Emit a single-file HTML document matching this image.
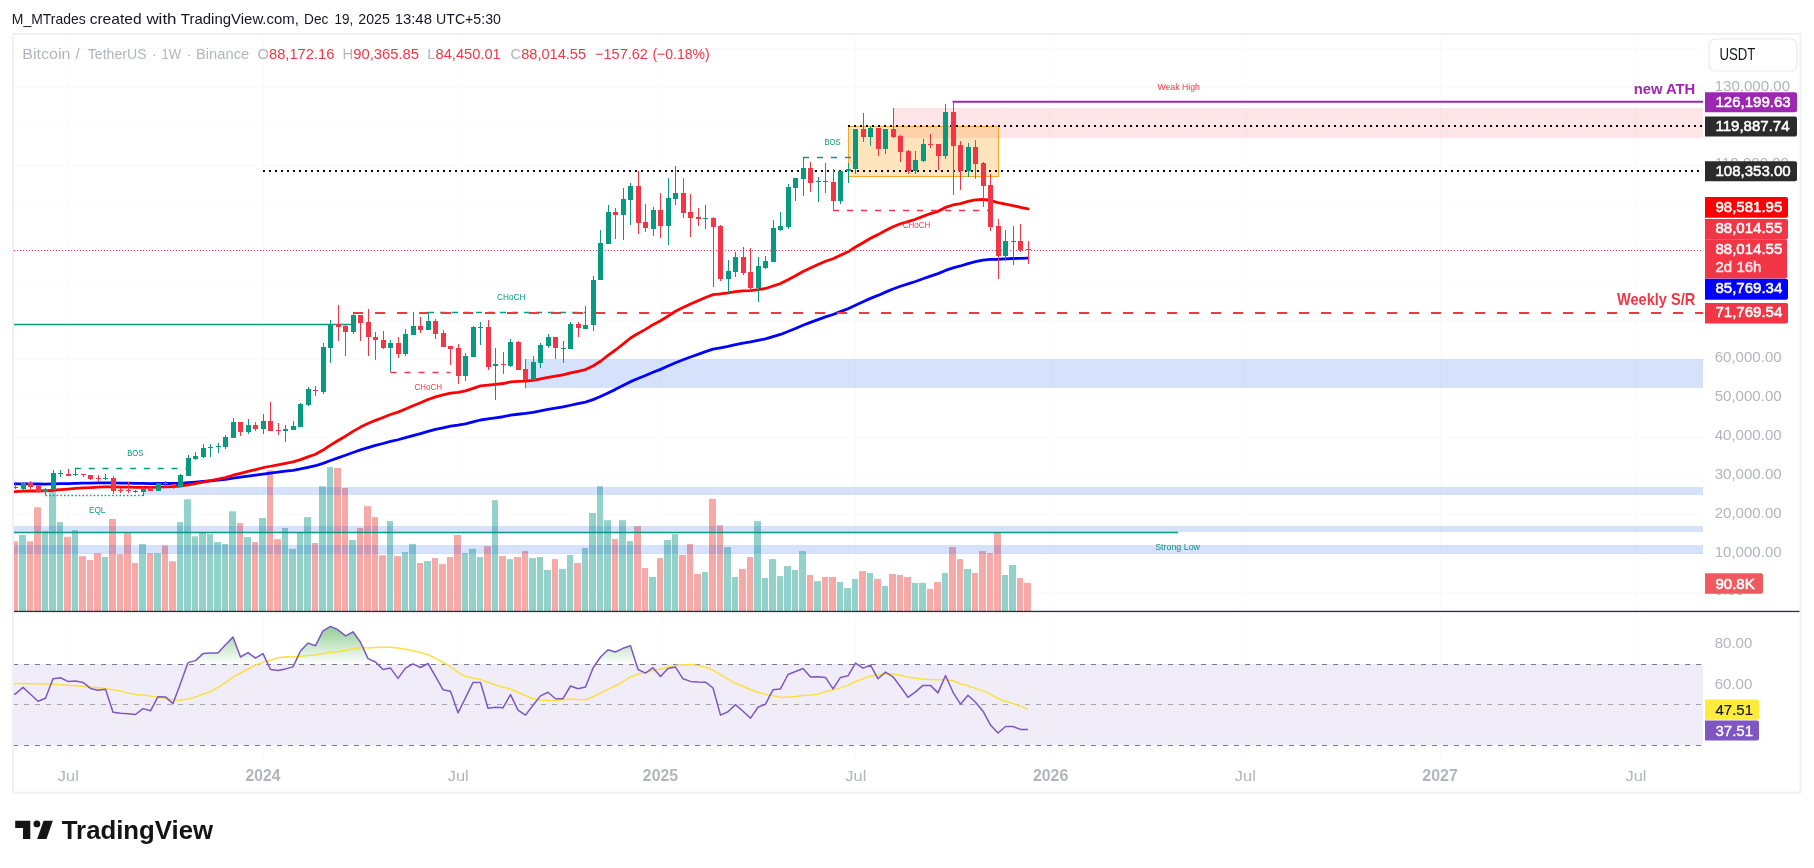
<!DOCTYPE html>
<html><head><meta charset="utf-8"><style>
html,body{margin:0;padding:0;background:#fff;}
body{width:1814px;height:868px;overflow:hidden;position:relative;}
svg{position:absolute;left:0;top:0;font-family:"Liberation Sans", sans-serif;will-change:transform;}
</style></head><body>
<svg width="1814" height="868" viewBox="0 0 1814 868">
<defs><clipPath id="plot"><rect x="14" y="34" width="1689.5" height="726"/></clipPath></defs>
<g clip-path="url(#plot)">
<line x1="68.5" y1="34" x2="68.5" y2="760" stroke="#fafafc" stroke-width="1"/>
<line x1="263.5" y1="34" x2="263.5" y2="760" stroke="#fafafc" stroke-width="1"/>
<line x1="458.5" y1="34" x2="458.5" y2="760" stroke="#fafafc" stroke-width="1"/>
<line x1="661.5" y1="34" x2="661.5" y2="760" stroke="#fafafc" stroke-width="1"/>
<line x1="855.5" y1="34" x2="855.5" y2="760" stroke="#fafafc" stroke-width="1"/>
<line x1="1050.5" y1="34" x2="1050.5" y2="760" stroke="#fafafc" stroke-width="1"/>
<line x1="1245.5" y1="34" x2="1245.5" y2="760" stroke="#fafafc" stroke-width="1"/>
<line x1="1440.5" y1="34" x2="1440.5" y2="760" stroke="#fafafc" stroke-width="1"/>
<line x1="1636.5" y1="34" x2="1636.5" y2="760" stroke="#fafafc" stroke-width="1"/>
<line x1="14" y1="592.5" x2="1703" y2="592.5" stroke="#fafafc" stroke-width="1"/>
<line x1="14" y1="553.5" x2="1703" y2="553.5" stroke="#fafafc" stroke-width="1"/>
<line x1="14" y1="514.5" x2="1703" y2="514.5" stroke="#fafafc" stroke-width="1"/>
<line x1="14" y1="475.5" x2="1703" y2="475.5" stroke="#fafafc" stroke-width="1"/>
<line x1="14" y1="437.5" x2="1703" y2="437.5" stroke="#fafafc" stroke-width="1"/>
<line x1="14" y1="398.5" x2="1703" y2="398.5" stroke="#fafafc" stroke-width="1"/>
<line x1="14" y1="359.5" x2="1703" y2="359.5" stroke="#fafafc" stroke-width="1"/>
<line x1="14" y1="320.5" x2="1703" y2="320.5" stroke="#fafafc" stroke-width="1"/>
<line x1="14" y1="281.5" x2="1703" y2="281.5" stroke="#fafafc" stroke-width="1"/>
<line x1="14" y1="243.5" x2="1703" y2="243.5" stroke="#fafafc" stroke-width="1"/>
<line x1="14" y1="204.5" x2="1703" y2="204.5" stroke="#fafafc" stroke-width="1"/>
<line x1="14" y1="165.5" x2="1703" y2="165.5" stroke="#fafafc" stroke-width="1"/>
<line x1="14" y1="126.5" x2="1703" y2="126.5" stroke="#fafafc" stroke-width="1"/>
<line x1="14" y1="87.5" x2="1703" y2="87.5" stroke="#fafafc" stroke-width="1"/>
<line x1="14" y1="48.5" x2="1703" y2="48.5" stroke="#fafafc" stroke-width="1"/>
<g><rect x="14" y="541.3" width="4" height="69.7" fill="#f7a9a8"/><rect x="19" y="535.0" width="7" height="76.0" fill="#93d2ca"/><rect x="27" y="541.3" width="6" height="69.7" fill="#f7a9a8"/><rect x="34" y="507.3" width="7" height="103.7" fill="#f7a9a8"/><rect x="42" y="531.1" width="6" height="79.9" fill="#93d2ca"/><rect x="49" y="491.3" width="7" height="119.7" fill="#93d2ca"/><rect x="57" y="522.1" width="6" height="88.9" fill="#93d2ca"/><rect x="64" y="536.8" width="7" height="74.2" fill="#f7a9a8"/><rect x="72" y="530.2" width="6" height="80.8" fill="#93d2ca"/><rect x="79" y="556.1" width="7" height="54.9" fill="#f7a9a8"/><rect x="87" y="560.0" width="6" height="51.0" fill="#f7a9a8"/><rect x="94" y="553.2" width="7" height="57.8" fill="#f7a9a8"/><rect x="102" y="557.0" width="6" height="54.0" fill="#93d2ca"/><rect x="109" y="518.9" width="7" height="92.1" fill="#f7a9a8"/><rect x="117" y="554.1" width="6" height="56.9" fill="#f7a9a8"/><rect x="124" y="533.2" width="7" height="77.8" fill="#f7a9a8"/><rect x="132" y="563.0" width="6" height="48.0" fill="#f7a9a8"/><rect x="139" y="543.9" width="7" height="67.1" fill="#93d2ca"/><rect x="147" y="553.2" width="6" height="57.8" fill="#f7a9a8"/><rect x="154" y="553.2" width="7" height="57.8" fill="#93d2ca"/><rect x="162" y="545.4" width="6" height="65.6" fill="#f7a9a8"/><rect x="169" y="561.3" width="7" height="49.7" fill="#f7a9a8"/><rect x="177" y="522.1" width="6" height="88.9" fill="#93d2ca"/><rect x="184" y="499.3" width="7" height="111.7" fill="#93d2ca"/><rect x="192" y="536.3" width="6" height="74.7" fill="#93d2ca"/><rect x="199" y="532.3" width="7" height="78.7" fill="#93d2ca"/><rect x="207" y="534.1" width="6" height="76.9" fill="#93d2ca"/><rect x="214" y="542.1" width="7" height="68.9" fill="#93d2ca"/><rect x="222" y="543.9" width="6" height="67.1" fill="#93d2ca"/><rect x="229" y="511.3" width="7" height="99.7" fill="#93d2ca"/><rect x="237" y="523.0" width="6" height="88.0" fill="#f7a9a8"/><rect x="244" y="537.1" width="7" height="73.9" fill="#93d2ca"/><rect x="252" y="542.1" width="6" height="68.9" fill="#f7a9a8"/><rect x="259" y="518.0" width="7" height="93.0" fill="#93d2ca"/><rect x="267" y="470.2" width="6" height="140.8" fill="#f7a9a8"/><rect x="274" y="539.1" width="7" height="71.9" fill="#f7a9a8"/><rect x="282" y="528.0" width="6" height="83.0" fill="#93d2ca"/><rect x="289" y="548.9" width="7" height="62.1" fill="#93d2ca"/><rect x="297" y="532.3" width="6" height="78.7" fill="#93d2ca"/><rect x="304" y="517.1" width="7" height="93.9" fill="#93d2ca"/><rect x="312" y="543.0" width="6" height="68.0" fill="#f7a9a8"/><rect x="319" y="486.3" width="7" height="124.7" fill="#93d2ca"/><rect x="327" y="467.1" width="6" height="143.9" fill="#93d2ca"/><rect x="334" y="468.0" width="7" height="143.0" fill="#f7a9a8"/><rect x="342" y="488.0" width="6" height="123.0" fill="#f7a9a8"/><rect x="349" y="540.0" width="7" height="71.0" fill="#93d2ca"/><rect x="357" y="527.9" width="6" height="83.1" fill="#f7a9a8"/><rect x="364" y="506.1" width="7" height="104.9" fill="#f7a9a8"/><rect x="372" y="517.1" width="6" height="93.9" fill="#f7a9a8"/><rect x="379" y="555.2" width="7" height="55.8" fill="#f7a9a8"/><rect x="387" y="521.1" width="6" height="89.9" fill="#93d2ca"/><rect x="394" y="556.1" width="7" height="54.9" fill="#f7a9a8"/><rect x="402" y="552.1" width="6" height="58.9" fill="#93d2ca"/><rect x="409" y="543.9" width="7" height="67.1" fill="#93d2ca"/><rect x="417" y="563.0" width="6" height="48.0" fill="#f7a9a8"/><rect x="424" y="561.1" width="7" height="49.9" fill="#93d2ca"/><rect x="432" y="558.0" width="6" height="53.0" fill="#f7a9a8"/><rect x="439" y="563.9" width="7" height="47.1" fill="#f7a9a8"/><rect x="447" y="557.0" width="6" height="54.0" fill="#f7a9a8"/><rect x="454" y="535.0" width="7" height="76.0" fill="#f7a9a8"/><rect x="462" y="553.0" width="6" height="58.0" fill="#93d2ca"/><rect x="469" y="548.9" width="7" height="62.1" fill="#93d2ca"/><rect x="477" y="557.0" width="6" height="54.0" fill="#93d2ca"/><rect x="484" y="546.1" width="7" height="64.9" fill="#f7a9a8"/><rect x="492" y="500.2" width="6" height="110.8" fill="#93d2ca"/><rect x="499" y="556.1" width="7" height="54.9" fill="#f7a9a8"/><rect x="507" y="559.1" width="6" height="51.9" fill="#93d2ca"/><rect x="514" y="557.0" width="7" height="54.0" fill="#f7a9a8"/><rect x="522" y="551.1" width="6" height="59.9" fill="#f7a9a8"/><rect x="529" y="558.0" width="7" height="53.0" fill="#93d2ca"/><rect x="537" y="557.0" width="6" height="54.0" fill="#93d2ca"/><rect x="544" y="570.0" width="7" height="41.0" fill="#93d2ca"/><rect x="552" y="559.1" width="6" height="51.9" fill="#f7a9a8"/><rect x="559" y="568.9" width="7" height="42.1" fill="#93d2ca"/><rect x="567" y="555.0" width="6" height="56.0" fill="#93d2ca"/><rect x="574" y="563.0" width="7" height="48.0" fill="#f7a9a8"/><rect x="582" y="548.0" width="6" height="63.0" fill="#93d2ca"/><rect x="589" y="513.0" width="7" height="98.0" fill="#93d2ca"/><rect x="597" y="486.1" width="6" height="124.9" fill="#93d2ca"/><rect x="604" y="520.2" width="7" height="90.8" fill="#93d2ca"/><rect x="612" y="538.9" width="6" height="72.1" fill="#f7a9a8"/><rect x="619" y="520.2" width="7" height="90.8" fill="#93d2ca"/><rect x="627" y="541.1" width="6" height="69.9" fill="#93d2ca"/><rect x="634" y="526.1" width="7" height="84.9" fill="#f7a9a8"/><rect x="642" y="568.0" width="6" height="43.0" fill="#f7a9a8"/><rect x="649" y="577.0" width="7" height="34.0" fill="#93d2ca"/><rect x="657" y="558.0" width="6" height="53.0" fill="#f7a9a8"/><rect x="664" y="540.0" width="7" height="71.0" fill="#93d2ca"/><rect x="672" y="534.1" width="6" height="76.9" fill="#93d2ca"/><rect x="679" y="555.0" width="7" height="56.0" fill="#f7a9a8"/><rect x="687" y="543.9" width="6" height="67.1" fill="#f7a9a8"/><rect x="694" y="573.9" width="7" height="37.1" fill="#f7a9a8"/><rect x="702" y="572.0" width="6" height="39.0" fill="#93d2ca"/><rect x="709" y="498.9" width="7" height="112.1" fill="#f7a9a8"/><rect x="717" y="525.2" width="6" height="85.8" fill="#f7a9a8"/><rect x="724" y="547.1" width="7" height="63.9" fill="#93d2ca"/><rect x="732" y="577.0" width="6" height="34.0" fill="#93d2ca"/><rect x="739" y="568.9" width="7" height="42.1" fill="#f7a9a8"/><rect x="747" y="557.0" width="6" height="54.0" fill="#f7a9a8"/><rect x="754" y="521.1" width="7" height="89.9" fill="#93d2ca"/><rect x="762" y="577.9" width="6" height="33.1" fill="#93d2ca"/><rect x="769" y="559.1" width="7" height="51.9" fill="#93d2ca"/><rect x="777" y="576.1" width="6" height="34.9" fill="#93d2ca"/><rect x="784" y="566.1" width="7" height="44.9" fill="#93d2ca"/><rect x="792" y="570.0" width="6" height="41.0" fill="#93d2ca"/><rect x="799" y="551.1" width="7" height="59.9" fill="#93d2ca"/><rect x="807" y="575.0" width="6" height="36.0" fill="#f7a9a8"/><rect x="814" y="581.1" width="7" height="29.9" fill="#93d2ca"/><rect x="822" y="577.0" width="6" height="34.0" fill="#f7a9a8"/><rect x="829" y="577.0" width="7" height="34.0" fill="#f7a9a8"/><rect x="837" y="582.0" width="6" height="29.0" fill="#93d2ca"/><rect x="844" y="588.0" width="7" height="23.0" fill="#93d2ca"/><rect x="852" y="578.9" width="6" height="32.1" fill="#93d2ca"/><rect x="859" y="571.1" width="7" height="39.9" fill="#f7a9a8"/><rect x="867" y="573.0" width="6" height="38.0" fill="#93d2ca"/><rect x="874" y="578.9" width="7" height="32.1" fill="#f7a9a8"/><rect x="882" y="585.9" width="6" height="25.1" fill="#93d2ca"/><rect x="889" y="573.9" width="7" height="37.1" fill="#f7a9a8"/><rect x="897" y="575.0" width="6" height="36.0" fill="#f7a9a8"/><rect x="904" y="577.0" width="7" height="34.0" fill="#f7a9a8"/><rect x="912" y="582.9" width="6" height="28.1" fill="#93d2ca"/><rect x="919" y="582.9" width="7" height="28.1" fill="#93d2ca"/><rect x="927" y="588.9" width="6" height="22.1" fill="#f7a9a8"/><rect x="934" y="582.0" width="7" height="29.0" fill="#f7a9a8"/><rect x="942" y="573.0" width="6" height="38.0" fill="#93d2ca"/><rect x="949" y="547.1" width="7" height="63.9" fill="#f7a9a8"/><rect x="957" y="559.1" width="6" height="51.9" fill="#f7a9a8"/><rect x="964" y="568.9" width="7" height="42.1" fill="#93d2ca"/><rect x="972" y="573.0" width="6" height="38.0" fill="#f7a9a8"/><rect x="979" y="551.1" width="7" height="59.9" fill="#f7a9a8"/><rect x="987" y="553.0" width="6" height="58.0" fill="#f7a9a8"/><rect x="994" y="532.9" width="7" height="78.1" fill="#f7a9a8"/><rect x="1002" y="575.0" width="6" height="36.0" fill="#93d2ca"/><rect x="1009" y="565.0" width="7" height="46.0" fill="#93d2ca"/><rect x="1017" y="577.9" width="6" height="33.1" fill="#f7a9a8"/><rect x="1024" y="582.9" width="7" height="28.1" fill="#f7a9a8"/></g>
<rect x="143" y="487" width="1560" height="8" fill="rgba(28,95,235,0.18)"/>
<rect x="14" y="526" width="1689" height="6" fill="rgba(28,95,235,0.18)"/>
<rect x="14" y="545" width="1689" height="9" fill="rgba(28,95,235,0.18)"/>
<rect x="525" y="359" width="1178" height="29" fill="rgba(28,95,235,0.18)"/>
<rect x="894" y="108" width="809" height="30" fill="rgba(242,54,69,0.13)"/>
<rect x="848.5" y="126.5" width="150" height="50" fill="rgba(255,152,0,0.26)" stroke="#ffa726" stroke-width="1"/>
<line x1="14" y1="324.5" x2="351" y2="324.5" stroke="#089981" stroke-width="1.5"/>
<line x1="14" y1="532.5" x2="1178" y2="532.5" stroke="#089981" stroke-width="1.5"/>
<polyline points="8.0,483.87 15.5,483.85 23.0,483.82 30.5,483.86 38.0,484.02 45.5,484.12 53.0,483.91 60.5,483.71 68.0,483.55 75.5,483.36 83.0,483.18 90.5,483.07 98.0,482.96 105.5,482.84 113.0,482.97 120.5,483.10 128.0,483.21 135.5,483.35 143.0,483.44 150.5,483.55 158.0,483.51 165.5,483.48 173.0,483.50 180.5,483.30 188.0,482.77 195.5,482.22 203.0,481.51 210.5,480.82 218.0,480.12 225.5,479.27 233.0,478.12 240.5,477.19 248.0,476.15 255.5,475.17 263.0,474.04 270.5,473.08 278.0,472.15 285.5,471.23 293.0,470.27 300.5,468.91 308.0,467.28 315.5,465.72 323.0,463.33 330.5,460.52 338.0,457.82 345.5,455.27 353.0,452.45 360.5,449.84 368.0,447.58 375.5,445.44 383.0,443.49 390.5,441.47 398.0,439.75 405.5,437.71 413.0,435.58 420.5,433.54 428.0,431.33 435.5,429.40 443.0,427.79 450.5,426.23 458.0,425.22 465.5,423.81 473.0,421.89 480.5,420.01 488.0,418.94 495.5,417.82 503.0,416.74 510.5,415.23 518.0,414.24 525.5,413.44 533.0,412.34 540.5,410.94 548.0,409.40 555.5,408.12 563.0,406.91 570.5,405.25 578.0,403.70 585.5,402.10 593.0,399.63 600.5,396.53 608.0,392.89 615.5,389.37 623.0,385.59 630.5,381.64 638.0,378.50 645.5,375.52 653.0,372.23 660.5,369.36 668.0,366.06 675.5,362.70 683.0,359.78 690.5,357.03 698.0,354.37 705.5,351.69 713.0,349.20 720.5,347.82 728.0,346.29 735.5,344.52 743.0,343.08 750.5,341.96 758.0,340.44 765.5,338.85 773.0,336.65 780.5,334.44 788.0,331.51 795.5,328.47 803.0,325.30 810.5,322.43 818.0,319.59 825.5,316.82 833.0,314.49 840.5,311.59 848.0,308.73 855.5,305.18 863.0,301.83 870.5,298.38 878.0,295.42 885.5,292.13 893.0,289.02 900.5,286.27 908.0,283.96 915.5,281.47 923.0,278.75 930.5,276.07 938.0,273.66 945.5,270.42 953.0,267.92 960.5,265.97 968.0,263.60 975.5,261.60 983.0,260.06 990.5,259.36 998.0,259.25 1005.5,258.86 1013.0,258.51 1020.5,258.32 1028.0,258.18" fill="none" stroke="#0000ff" stroke-width="2.8" stroke-linejoin="round" stroke-linecap="round"/>
<polyline points="8.0,491.88 15.5,491.53 23.0,491.18 30.5,490.99 38.0,491.02 45.5,490.95 53.0,490.25 60.5,489.59 68.0,489.04 75.5,488.47 83.0,487.94 90.5,487.57 98.0,487.19 105.5,486.80 113.0,486.94 120.5,487.07 128.0,487.17 135.5,487.28 143.0,487.29 150.5,487.33 158.0,487.07 165.5,486.83 173.0,486.69 180.5,486.10 188.0,484.86 195.5,483.63 203.0,482.13 210.5,480.67 218.0,479.23 225.5,477.49 233.0,475.22 240.5,473.43 248.0,471.47 255.5,469.70 263.0,467.74 270.5,466.25 278.0,464.79 285.5,463.36 293.0,461.89 300.5,459.62 308.0,456.82 315.5,454.24 323.0,450.06 330.5,445.13 338.0,440.47 345.5,436.18 353.0,431.40 360.5,427.09 368.0,423.57 375.5,420.32 383.0,417.49 390.5,414.54 398.0,412.11 405.5,409.00 413.0,405.72 420.5,402.72 428.0,399.48 435.5,396.84 443.0,394.85 450.5,393.03 458.0,392.32 465.5,390.85 473.0,388.33 480.5,385.92 488.0,385.13 495.5,384.27 503.0,383.51 510.5,381.87 518.0,381.31 525.5,381.16 533.0,380.36 540.5,378.97 548.0,377.28 555.5,376.08 563.0,374.94 570.5,372.95 578.0,371.26 585.5,369.52 593.0,366.04 600.5,361.26 608.0,355.46 615.5,350.00 623.0,344.12 630.5,337.97 638.0,333.49 645.5,329.36 653.0,324.65 660.5,320.79 668.0,316.06 675.5,311.30 683.0,307.46 690.5,303.99 698.0,300.69 705.5,297.44 713.0,294.61 720.5,293.93 728.0,292.95 735.5,291.53 743.0,290.81 750.5,290.70 758.0,289.70 765.5,288.49 773.0,286.04 780.5,283.61 788.0,279.81 795.5,275.79 803.0,271.53 810.5,267.96 818.0,264.49 825.5,261.22 833.0,258.76 840.5,255.26 848.0,251.84 855.5,247.03 863.0,242.70 870.5,238.18 878.0,234.64 885.5,230.47 893.0,226.74 900.5,223.76 908.0,221.69 915.5,219.28 923.0,216.37 930.5,213.54 938.0,211.29 945.5,207.39 953.0,204.96 960.5,203.59 968.0,201.37 975.5,199.93 983.0,199.41 990.5,200.50 998.0,202.66 1005.5,204.15 1013.0,205.61 1020.5,207.32 1028.0,208.96" fill="none" stroke="#ff0000" stroke-width="2.8" stroke-linejoin="round" stroke-linecap="round"/>
<line x1="74.9" y1="468.5" x2="188.5" y2="468.5" stroke="#089981" stroke-width="1.5" stroke-dasharray="6 7.8"/>
<line x1="45.5" y1="495.5" x2="143" y2="495.5" stroke="#089981" stroke-width="1.5" stroke-dasharray="1.5 2.2"/>
<line x1="428" y1="312.5" x2="585.5" y2="312.5" stroke="#089981" stroke-width="1.5" stroke-dasharray="6 6"/>
<line x1="390.5" y1="372.5" x2="450.5" y2="372.5" stroke="#f23645" stroke-width="1.5" stroke-dasharray="6 8"/>
<line x1="803" y1="157.5" x2="855.5" y2="157.5" stroke="#089981" stroke-width="1.5" stroke-dasharray="6 8"/>
<line x1="833" y1="210.5" x2="988" y2="210.5" stroke="#f23645" stroke-width="1.5" stroke-dasharray="6 8"/>
<line x1="353" y1="313" x2="1703" y2="313" stroke="#f23645" stroke-width="2" stroke-dasharray="10 12"/>
<line x1="952.5" y1="101.8" x2="1703" y2="101.8" stroke="#9c27b0" stroke-width="2"/>
<line x1="848" y1="126" x2="1703" y2="126" stroke="#000" stroke-width="2" stroke-dasharray="2 4"/>
<line x1="263" y1="171" x2="1703" y2="171" stroke="#000" stroke-width="2" stroke-dasharray="2 4"/>
<line x1="14" y1="250.5" x2="1703" y2="250.5" stroke="#f23645" stroke-width="1" stroke-dasharray="1 2"/>
<g shape-rendering="crispEdges"><rect x="15" y="484.1" width="1" height="4.6" fill="#f23645"/><rect x="13" y="487.1" width="5" height="1.0" fill="#f23645"/><rect x="23" y="482.1" width="1" height="8.6" fill="#089981"/><rect x="21" y="483.1" width="5" height="5.6" fill="#089981"/><rect x="30" y="481.1" width="1" height="7.6" fill="#f23645"/><rect x="28" y="483.1" width="5" height="3.6" fill="#f23645"/><rect x="38" y="485.1" width="1" height="7.6" fill="#f23645"/><rect x="36" y="486.1" width="5" height="5.9" fill="#f23645"/><rect x="45" y="488.1" width="1" height="7.2" fill="#089981"/><rect x="43" y="489.4" width="5" height="2.3" fill="#089981"/><rect x="53" y="470.2" width="1" height="19.9" fill="#089981"/><rect x="51" y="473.2" width="5" height="16.9" fill="#089981"/><rect x="60" y="470.2" width="1" height="6.6" fill="#089981"/><rect x="58" y="473.0" width="5" height="1.0" fill="#089981"/><rect x="68" y="469.2" width="1" height="6.3" fill="#f23645"/><rect x="66" y="473.5" width="5" height="2.0" fill="#f23645"/><rect x="75" y="468.2" width="1" height="7.3" fill="#089981"/><rect x="73" y="474.0" width="5" height="1.0" fill="#089981"/><rect x="83" y="473.8" width="1" height="3.0" fill="#f23645"/><rect x="81" y="474.0" width="5" height="1.0" fill="#f23645"/><rect x="90" y="475.2" width="1" height="4.6" fill="#f23645"/><rect x="88" y="475.2" width="5" height="3.3" fill="#f23645"/><rect x="98" y="475.2" width="1" height="5.6" fill="#f23645"/><rect x="96" y="477.8" width="5" height="1.0" fill="#f23645"/><rect x="105" y="474.2" width="1" height="5.6" fill="#089981"/><rect x="103" y="477.8" width="5" height="1.0" fill="#089981"/><rect x="113" y="476.2" width="1" height="17.5" fill="#f23645"/><rect x="111" y="478.1" width="5" height="12.6" fill="#f23645"/><rect x="120" y="488.4" width="1" height="4.3" fill="#f23645"/><rect x="118" y="490.0" width="5" height="1.0" fill="#f23645"/><rect x="128" y="482.3" width="1" height="10.6" fill="#f23645"/><rect x="126" y="490.1" width="5" height="1.0" fill="#f23645"/><rect x="135" y="489.6" width="1" height="3.3" fill="#f23645"/><rect x="133" y="490.7" width="5" height="1.0" fill="#f23645"/><rect x="143" y="487.3" width="1" height="8.3" fill="#089981"/><rect x="141" y="489.2" width="5" height="2.3" fill="#089981"/><rect x="150" y="485.5" width="1" height="5.5" fill="#f23645"/><rect x="148" y="488.3" width="5" height="2.3" fill="#f23645"/><rect x="158" y="483.2" width="1" height="7.4" fill="#089981"/><rect x="156" y="483.2" width="5" height="7.4" fill="#089981"/><rect x="165" y="480.9" width="1" height="5.1" fill="#f23645"/><rect x="163" y="483.0" width="5" height="1.0" fill="#f23645"/><rect x="173" y="483.5" width="1" height="5.2" fill="#f23645"/><rect x="171" y="483.5" width="5" height="2.9" fill="#f23645"/><rect x="180" y="474.0" width="1" height="12.6" fill="#089981"/><rect x="178" y="475.2" width="5" height="11.4" fill="#089981"/><rect x="188" y="455.1" width="1" height="20.7" fill="#089981"/><rect x="186" y="458.3" width="5" height="17.5" fill="#089981"/><rect x="195" y="452.3" width="1" height="7.4" fill="#089981"/><rect x="193" y="456.4" width="5" height="2.3" fill="#089981"/><rect x="203" y="444.2" width="1" height="13.6" fill="#089981"/><rect x="201" y="448.1" width="5" height="8.8" fill="#089981"/><rect x="210" y="444.2" width="1" height="12.7" fill="#089981"/><rect x="208" y="447.2" width="5" height="1.2" fill="#089981"/><rect x="218" y="443.3" width="1" height="9.7" fill="#089981"/><rect x="216" y="446.0" width="5" height="1.0" fill="#089981"/><rect x="225" y="435.4" width="1" height="13.4" fill="#089981"/><rect x="223" y="437.3" width="5" height="9.5" fill="#089981"/><rect x="233" y="418.2" width="1" height="19.5" fill="#089981"/><rect x="231" y="422.2" width="5" height="15.5" fill="#089981"/><rect x="240" y="422.2" width="1" height="13.7" fill="#f23645"/><rect x="238" y="422.2" width="5" height="9.5" fill="#f23645"/><rect x="248" y="419.3" width="1" height="14.7" fill="#089981"/><rect x="246" y="425.3" width="5" height="6.4" fill="#089981"/><rect x="255" y="422.2" width="1" height="8.6" fill="#f23645"/><rect x="253" y="425.3" width="5" height="3.4" fill="#f23645"/><rect x="263" y="414.2" width="1" height="19.7" fill="#089981"/><rect x="261" y="421.1" width="5" height="7.6" fill="#089981"/><rect x="270" y="402.2" width="1" height="28.6" fill="#f23645"/><rect x="268" y="421.1" width="5" height="9.7" fill="#f23645"/><rect x="278" y="423.2" width="1" height="11.8" fill="#f23645"/><rect x="276" y="429.9" width="5" height="1.0" fill="#f23645"/><rect x="285" y="425.3" width="1" height="16.6" fill="#089981"/><rect x="283" y="429.4" width="5" height="1.4" fill="#089981"/><rect x="293" y="421.0" width="1" height="8.9" fill="#089981"/><rect x="291" y="426.1" width="5" height="3.4" fill="#089981"/><rect x="300" y="403.2" width="1" height="24.2" fill="#089981"/><rect x="298" y="404.0" width="5" height="23.1" fill="#089981"/><rect x="308" y="387.1" width="1" height="18.5" fill="#089981"/><rect x="306" y="389.0" width="5" height="16.2" fill="#089981"/><rect x="315" y="386.3" width="1" height="9.2" fill="#f23645"/><rect x="313" y="389.5" width="5" height="1.6" fill="#f23645"/><rect x="323" y="343.2" width="1" height="50.3" fill="#089981"/><rect x="321" y="347.1" width="5" height="45.2" fill="#089981"/><rect x="330" y="320.2" width="1" height="42.7" fill="#089981"/><rect x="328" y="324.2" width="5" height="23.4" fill="#089981"/><rect x="338" y="304.8" width="1" height="35.8" fill="#f23645"/><rect x="336" y="324.2" width="5" height="2.4" fill="#f23645"/><rect x="345" y="324.2" width="1" height="31.4" fill="#f23645"/><rect x="343" y="325.8" width="5" height="5.8" fill="#f23645"/><rect x="353" y="313.7" width="1" height="20.2" fill="#089981"/><rect x="351" y="315.3" width="5" height="16.6" fill="#089981"/><rect x="360" y="315.3" width="1" height="25.3" fill="#f23645"/><rect x="358" y="315.3" width="5" height="7.3" fill="#f23645"/><rect x="368" y="309.4" width="1" height="46.2" fill="#f23645"/><rect x="366" y="322.3" width="5" height="15.1" fill="#f23645"/><rect x="375" y="332.3" width="1" height="27.4" fill="#f23645"/><rect x="373" y="337.4" width="5" height="2.9" fill="#f23645"/><rect x="383" y="331.1" width="1" height="17.5" fill="#f23645"/><rect x="381" y="340.3" width="5" height="7.5" fill="#f23645"/><rect x="390" y="340.3" width="1" height="31.9" fill="#089981"/><rect x="388" y="343.1" width="5" height="4.8" fill="#089981"/><rect x="398" y="337.0" width="1" height="20.7" fill="#f23645"/><rect x="396" y="343.1" width="5" height="10.8" fill="#f23645"/><rect x="405" y="329.2" width="1" height="26.6" fill="#089981"/><rect x="403" y="334.0" width="5" height="19.9" fill="#089981"/><rect x="413" y="312.0" width="1" height="22.5" fill="#089981"/><rect x="411" y="326.0" width="5" height="8.5" fill="#089981"/><rect x="420" y="317.1" width="1" height="15.9" fill="#f23645"/><rect x="418" y="326.0" width="5" height="3.8" fill="#f23645"/><rect x="428" y="312.3" width="1" height="17.5" fill="#089981"/><rect x="426" y="320.9" width="5" height="8.9" fill="#089981"/><rect x="435" y="319.0" width="1" height="19.7" fill="#f23645"/><rect x="433" y="320.9" width="5" height="12.7" fill="#f23645"/><rect x="443" y="330.0" width="1" height="16.9" fill="#f23645"/><rect x="441" y="333.0" width="5" height="13.9" fill="#f23645"/><rect x="450" y="346.3" width="1" height="18.6" fill="#f23645"/><rect x="448" y="346.3" width="5" height="2.2" fill="#f23645"/><rect x="458" y="344.1" width="1" height="39.5" fill="#f23645"/><rect x="456" y="347.9" width="5" height="27.9" fill="#f23645"/><rect x="465" y="353.0" width="1" height="27.9" fill="#089981"/><rect x="463" y="355.8" width="5" height="20.0" fill="#089981"/><rect x="473" y="326.0" width="1" height="30.7" fill="#089981"/><rect x="471" y="327.0" width="5" height="29.7" fill="#089981"/><rect x="480" y="322.2" width="1" height="22.6" fill="#089981"/><rect x="478" y="327.0" width="5" height="1.0" fill="#089981"/><rect x="488" y="320.0" width="1" height="50.0" fill="#f23645"/><rect x="486" y="327.1" width="5" height="39.7" fill="#f23645"/><rect x="495" y="348.1" width="1" height="52.2" fill="#089981"/><rect x="493" y="364.3" width="5" height="2.1" fill="#089981"/><rect x="503" y="352.0" width="1" height="21.6" fill="#f23645"/><rect x="501" y="364.3" width="5" height="1.1" fill="#f23645"/><rect x="510" y="339.0" width="1" height="27.8" fill="#089981"/><rect x="508" y="342.2" width="5" height="23.5" fill="#089981"/><rect x="518" y="341.2" width="1" height="28.4" fill="#f23645"/><rect x="516" y="341.9" width="5" height="27.7" fill="#f23645"/><rect x="525" y="359.2" width="1" height="28.4" fill="#f23645"/><rect x="523" y="369.3" width="5" height="10.8" fill="#f23645"/><rect x="533" y="356.3" width="1" height="23.8" fill="#089981"/><rect x="531" y="362.1" width="5" height="18.0" fill="#089981"/><rect x="540" y="343.4" width="1" height="24.5" fill="#089981"/><rect x="538" y="345.1" width="5" height="17.7" fill="#089981"/><rect x="548" y="334.0" width="1" height="14.4" fill="#089981"/><rect x="546" y="337.2" width="5" height="8.6" fill="#089981"/><rect x="555" y="337.2" width="1" height="21.6" fill="#f23645"/><rect x="553" y="337.2" width="5" height="11.2" fill="#f23645"/><rect x="563" y="341.2" width="1" height="21.4" fill="#089981"/><rect x="561" y="347.7" width="5" height="1.0" fill="#089981"/><rect x="570" y="322.2" width="1" height="26.3" fill="#089981"/><rect x="568" y="323.8" width="5" height="24.7" fill="#089981"/><rect x="578" y="322.2" width="1" height="15.0" fill="#f23645"/><rect x="576" y="323.8" width="5" height="4.6" fill="#f23645"/><rect x="585" y="305.9" width="1" height="23.0" fill="#089981"/><rect x="583" y="325.0" width="5" height="3.9" fill="#089981"/><rect x="593" y="275.5" width="1" height="55.2" fill="#089981"/><rect x="591" y="280.1" width="5" height="45.3" fill="#089981"/><rect x="600" y="229.9" width="1" height="50.2" fill="#089981"/><rect x="598" y="243.3" width="5" height="36.8" fill="#089981"/><rect x="608" y="205.3" width="1" height="39.1" fill="#089981"/><rect x="606" y="212.2" width="5" height="31.5" fill="#089981"/><rect x="615" y="207.6" width="1" height="31.1" fill="#f23645"/><rect x="613" y="212.2" width="5" height="2.3" fill="#f23645"/><rect x="623" y="188.0" width="1" height="51.8" fill="#089981"/><rect x="621" y="199.1" width="5" height="15.4" fill="#089981"/><rect x="630" y="183.0" width="1" height="42.3" fill="#089981"/><rect x="628" y="186.2" width="5" height="13.3" fill="#089981"/><rect x="638" y="171.0" width="1" height="62.5" fill="#f23645"/><rect x="636" y="186.0" width="5" height="36.5" fill="#f23645"/><rect x="645" y="204.0" width="1" height="27.8" fill="#f23645"/><rect x="643" y="222.1" width="5" height="6.3" fill="#f23645"/><rect x="653" y="207.1" width="1" height="28.7" fill="#089981"/><rect x="651" y="210.0" width="5" height="18.9" fill="#089981"/><rect x="660" y="193.1" width="1" height="44.6" fill="#f23645"/><rect x="658" y="210.0" width="5" height="15.6" fill="#f23645"/><rect x="668" y="178.1" width="1" height="66.6" fill="#089981"/><rect x="666" y="198.2" width="5" height="27.4" fill="#089981"/><rect x="675" y="166.1" width="1" height="38.7" fill="#089981"/><rect x="673" y="193.1" width="5" height="5.6" fill="#089981"/><rect x="683" y="178.1" width="1" height="39.6" fill="#f23645"/><rect x="681" y="193.1" width="5" height="19.6" fill="#f23645"/><rect x="690" y="194.2" width="1" height="42.4" fill="#f23645"/><rect x="688" y="211.9" width="5" height="5.8" fill="#f23645"/><rect x="698" y="208.1" width="1" height="17.7" fill="#f23645"/><rect x="696" y="217.3" width="5" height="2.1" fill="#f23645"/><rect x="705" y="205.2" width="1" height="23.3" fill="#089981"/><rect x="703" y="217.9" width="5" height="1.0" fill="#089981"/><rect x="713" y="217.3" width="1" height="70.1" fill="#f23645"/><rect x="711" y="218.0" width="5" height="8.5" fill="#f23645"/><rect x="720" y="225.3" width="1" height="55.3" fill="#f23645"/><rect x="718" y="226.1" width="5" height="52.8" fill="#f23645"/><rect x="728" y="260.0" width="1" height="33.1" fill="#089981"/><rect x="726" y="271.3" width="5" height="7.6" fill="#089981"/><rect x="735" y="252.2" width="1" height="24.6" fill="#089981"/><rect x="733" y="257.2" width="5" height="14.3" fill="#089981"/><rect x="743" y="247.1" width="1" height="27.7" fill="#f23645"/><rect x="741" y="257.1" width="5" height="15.9" fill="#f23645"/><rect x="750" y="248.2" width="1" height="42.6" fill="#f23645"/><rect x="748" y="272.3" width="5" height="15.9" fill="#f23645"/><rect x="758" y="257.1" width="1" height="44.9" fill="#089981"/><rect x="756" y="266.1" width="5" height="22.1" fill="#089981"/><rect x="765" y="255.8" width="1" height="13.1" fill="#089981"/><rect x="763" y="261.1" width="5" height="7.3" fill="#089981"/><rect x="773" y="220.0" width="1" height="41.5" fill="#089981"/><rect x="771" y="228.1" width="5" height="33.4" fill="#089981"/><rect x="780" y="211.9" width="1" height="19.0" fill="#089981"/><rect x="778" y="226.0" width="5" height="3.5" fill="#089981"/><rect x="788" y="184.2" width="1" height="44.4" fill="#089981"/><rect x="786" y="187.2" width="5" height="39.7" fill="#089981"/><rect x="795" y="178.0" width="1" height="23.0" fill="#089981"/><rect x="793" y="178.0" width="5" height="9.7" fill="#089981"/><rect x="803" y="157.3" width="1" height="38.5" fill="#089981"/><rect x="801" y="167.8" width="5" height="11.1" fill="#089981"/><rect x="810" y="162.1" width="1" height="29.4" fill="#f23645"/><rect x="808" y="167.8" width="5" height="14.7" fill="#f23645"/><rect x="818" y="176.8" width="1" height="24.7" fill="#089981"/><rect x="816" y="181.1" width="5" height="1.0" fill="#089981"/><rect x="825" y="163.0" width="1" height="30.0" fill="#f23645"/><rect x="823" y="181.0" width="5" height="1.0" fill="#f23645"/><rect x="833" y="169.1" width="1" height="41.2" fill="#f23645"/><rect x="831" y="182.2" width="5" height="18.4" fill="#f23645"/><rect x="840" y="170.6" width="1" height="33.7" fill="#089981"/><rect x="838" y="171.1" width="5" height="29.5" fill="#089981"/><rect x="848" y="163.1" width="1" height="20.3" fill="#089981"/><rect x="846" y="169.1" width="5" height="2.3" fill="#089981"/><rect x="855" y="128.7" width="1" height="45.7" fill="#089981"/><rect x="853" y="129.1" width="5" height="39.6" fill="#089981"/><rect x="863" y="113.3" width="1" height="28.4" fill="#f23645"/><rect x="861" y="129.4" width="5" height="7.2" fill="#f23645"/><rect x="870" y="125.7" width="1" height="20.2" fill="#089981"/><rect x="868" y="128.2" width="5" height="8.4" fill="#089981"/><rect x="878" y="127.6" width="1" height="28.8" fill="#f23645"/><rect x="876" y="128.2" width="5" height="20.3" fill="#f23645"/><rect x="885" y="129.1" width="1" height="24.6" fill="#089981"/><rect x="883" y="129.1" width="5" height="19.4" fill="#089981"/><rect x="893" y="108.2" width="1" height="29.5" fill="#f23645"/><rect x="891" y="129.4" width="5" height="7.2" fill="#f23645"/><rect x="900" y="135.4" width="1" height="26.2" fill="#f23645"/><rect x="898" y="136.2" width="5" height="15.4" fill="#f23645"/><rect x="908" y="150.4" width="1" height="24.0" fill="#f23645"/><rect x="906" y="151.2" width="5" height="19.6" fill="#f23645"/><rect x="915" y="151.2" width="1" height="23.2" fill="#089981"/><rect x="913" y="160.1" width="5" height="10.7" fill="#089981"/><rect x="923" y="139.2" width="1" height="22.4" fill="#089981"/><rect x="921" y="144.1" width="5" height="16.8" fill="#089981"/><rect x="930" y="133.9" width="1" height="13.8" fill="#f23645"/><rect x="928" y="143.7" width="5" height="1.0" fill="#f23645"/><rect x="938" y="144.1" width="1" height="25.8" fill="#f23645"/><rect x="936" y="144.1" width="5" height="12.3" fill="#f23645"/><rect x="945" y="104.3" width="1" height="54.4" fill="#089981"/><rect x="943" y="112.2" width="5" height="44.2" fill="#089981"/><rect x="953" y="101.7" width="1" height="93.6" fill="#f23645"/><rect x="951" y="112.2" width="5" height="33.4" fill="#f23645"/><rect x="960" y="141.1" width="1" height="48.6" fill="#f23645"/><rect x="958" y="145.2" width="5" height="25.4" fill="#f23645"/><rect x="968" y="142.9" width="1" height="34.5" fill="#089981"/><rect x="966" y="147.1" width="5" height="23.5" fill="#089981"/><rect x="975" y="139.6" width="1" height="39.0" fill="#f23645"/><rect x="973" y="147.1" width="5" height="16.8" fill="#f23645"/><rect x="983" y="162.4" width="1" height="44.9" fill="#f23645"/><rect x="981" y="163.1" width="5" height="22.5" fill="#f23645"/><rect x="990" y="174.1" width="1" height="56.5" fill="#f23645"/><rect x="988" y="185.2" width="5" height="41.5" fill="#f23645"/><rect x="998" y="219.1" width="1" height="59.4" fill="#f23645"/><rect x="996" y="226.0" width="5" height="29.7" fill="#f23645"/><rect x="1005" y="230.1" width="1" height="30.5" fill="#089981"/><rect x="1003" y="241.2" width="5" height="14.5" fill="#089981"/><rect x="1013" y="226.0" width="1" height="39.4" fill="#089981"/><rect x="1011" y="241.1" width="5" height="1.0" fill="#089981"/><rect x="1020" y="223.9" width="1" height="27.7" fill="#f23645"/><rect x="1018" y="241.2" width="5" height="9.0" fill="#f23645"/><rect x="1028" y="241.2" width="1" height="22.5" fill="#f23645"/><rect x="1026" y="249.3" width="5" height="1.0" fill="#f23645"/></g>
<text x="127.18" y="455.7" font-size="8.7" fill="#089981" textLength="16.14" lengthAdjust="spacingAndGlyphs">BOS</text>
<text x="88.94" y="512.5" font-size="8.7" fill="#089981" textLength="16.46" lengthAdjust="spacingAndGlyphs">EQL</text>
<text x="497.12" y="300.2" font-size="8.7" fill="#089981" textLength="28.41" lengthAdjust="spacingAndGlyphs">CHoCH</text>
<text x="414.43" y="390.2" font-size="8.7" fill="#f23645" textLength="27.59" lengthAdjust="spacingAndGlyphs">CHoCH</text>
<text x="824.38" y="145" font-size="8.7" fill="#089981" textLength="16.14" lengthAdjust="spacingAndGlyphs">BOS</text>
<text x="902.63" y="227.9" font-size="8.7" fill="#f23645" textLength="27.59" lengthAdjust="spacingAndGlyphs">CHoCH</text>
<text x="1157.40" y="89.9" font-size="8.7" fill="#f23645" textLength="42.59" lengthAdjust="spacingAndGlyphs">Weak High</text>
<text x="1155.19" y="550.4" font-size="8.7" fill="#089981" textLength="44.82" lengthAdjust="spacingAndGlyphs">Strong Low</text>
<text x="1633.64" y="93.8" font-size="15.4" fill="#9c27b0" font-weight="bold" textLength="61.68" lengthAdjust="spacingAndGlyphs">new ATH</text>
<text x="1617.00" y="304.9" font-size="15.7" fill="#f23645" font-weight="bold" textLength="78.23" lengthAdjust="spacingAndGlyphs">Weekly S/R</text>
<rect x="14" y="664" width="1689" height="81.3" fill="#f0edf9"/>
<defs><linearGradient id="ob" x1="0" y1="603" x2="0" y2="664.1" gradientUnits="userSpaceOnUse"><stop offset="0" stop-color="rgb(76,175,80)" stop-opacity="1"/><stop offset="1" stop-color="rgb(76,175,80)" stop-opacity="0"/></linearGradient><clipPath id="above70"><rect x="0" y="600" width="1814" height="64.1"/></clipPath></defs>
<path d="M8.0,664.1 L8.0,694.5 L15.5,693.9 L23.0,687.4 L30.5,694.3 L38.0,701.2 L45.5,698.3 L53.0,678.8 L60.5,677.8 L68.0,681.4 L75.5,681.0 L83.0,682.4 L90.5,688.4 L98.0,690.3 L105.5,689.3 L113.0,712.2 L120.5,713.2 L128.0,713.8 L135.5,714.5 L143.0,708.6 L150.5,710.8 L158.0,696.7 L165.5,696.9 L173.0,703.6 L180.5,683.4 L188.0,662.6 L195.5,660.6 L203.0,653.6 L210.5,653.0 L218.0,653.0 L225.5,644.7 L233.0,637.1 L240.5,657.0 L248.0,652.6 L255.5,658.2 L263.0,653.6 L270.5,669.5 L278.0,670.5 L285.5,668.9 L293.0,666.9 L300.5,651.0 L308.0,643.1 L315.5,645.7 L323.0,630.8 L330.5,626.4 L338.0,629.8 L345.5,635.8 L353.0,631.8 L360.5,642.3 L368.0,658.6 L375.5,662.0 L383.0,669.5 L390.5,668.1 L398.0,678.4 L405.5,668.1 L413.0,663.9 L420.5,667.5 L428.0,663.5 L435.5,676.4 L443.0,689.7 L450.5,691.3 L458.0,712.8 L465.5,697.9 L473.0,682.4 L480.5,682.4 L488.0,708.2 L495.5,707.2 L503.0,707.8 L510.5,694.7 L518.0,710.2 L525.5,715.1 L533.0,705.2 L540.5,695.9 L548.0,692.3 L555.5,698.7 L563.0,698.7 L570.5,686.0 L578.0,688.7 L585.5,687.0 L593.0,668.1 L600.5,657.0 L608.0,649.7 L615.5,652.0 L623.0,648.3 L630.5,645.7 L638.0,669.5 L645.5,673.1 L653.0,667.7 L660.5,676.4 L668.0,668.5 L675.5,667.1 L683.0,678.8 L690.5,681.4 L698.0,682.0 L705.5,682.2 L713.0,688.0 L720.5,715.1 L728.0,711.8 L735.5,704.6 L743.0,711.2 L750.5,718.1 L758.0,707.2 L765.5,704.2 L773.0,689.7 L780.5,688.9 L788.0,674.5 L795.5,671.5 L803.0,668.5 L810.5,677.0 L818.0,676.8 L825.5,677.4 L833.0,688.9 L840.5,677.4 L848.0,675.8 L855.5,663.1 L863.0,668.1 L870.5,665.1 L878.0,678.8 L885.5,672.1 L893.0,676.8 L900.5,686.8 L908.0,697.3 L915.5,691.9 L923.0,685.4 L930.5,685.4 L938.0,692.9 L945.5,675.5 L953.0,692.3 L960.5,704.2 L968.0,695.3 L975.5,702.2 L983.0,711.2 L990.5,725.1 L998.0,733.0 L1005.5,726.5 L1013.0,726.5 L1020.5,729.4 L1028.0,729.6 L1028.0,664.1 Z" fill="url(#ob)" clip-path="url(#above70)"/>
<line x1="13" y1="664.5" x2="1703" y2="664.5" stroke="#787b86" stroke-width="1" stroke-dasharray="5 6"/>
<line x1="13" y1="704.5" x2="1703" y2="704.5" stroke="#a4a7b0" stroke-width="1" stroke-dasharray="5 6"/>
<line x1="13" y1="745.5" x2="1703" y2="745.5" stroke="#787b86" stroke-width="1" stroke-dasharray="5 6"/>
<polyline points="8.0,683.5 13.0,683.6 49.6,684.0 79.4,686.0 105.2,688.4 113.0,689.8 120.5,691.1 128.0,693.0 135.5,694.5 143.0,695.0 150.5,695.9 158.0,697.2 165.5,698.5 173.0,700.1 180.5,700.3 188.0,698.9 195.5,696.9 203.0,694.3 210.5,691.7 218.0,687.4 225.5,682.6 233.0,677.1 240.5,673.0 248.0,669.0 255.5,665.2 263.0,662.1 270.5,660.2 278.0,657.8 285.5,656.8 293.0,657.1 300.5,656.4 308.0,655.6 315.5,655.1 323.0,653.5 330.5,652.2 338.0,651.7 345.5,650.2 353.0,648.7 360.5,647.6 368.0,647.9 375.5,647.4 383.0,647.3 390.5,647.3 398.0,648.1 405.5,649.3 413.0,650.8 420.5,652.4 428.0,654.7 435.5,658.3 443.0,662.5 450.5,666.5 458.0,672.3 465.5,676.3 473.0,678.0 480.5,679.4 488.0,682.2 495.5,685.0 503.0,687.1 510.5,689.0 518.0,692.3 525.5,695.7 533.0,698.7 540.5,700.1 548.0,700.2 555.5,700.8 563.0,699.8 570.5,698.9 578.0,699.4 585.5,699.7 593.0,696.8 600.5,693.2 608.0,689.1 615.5,686.0 623.0,681.6 630.5,676.7 638.0,674.1 645.5,672.5 653.0,670.7 660.5,669.1 668.0,667.0 675.5,665.6 683.0,664.9 690.5,664.5 698.0,665.5 705.5,667.3 713.0,670.1 720.5,674.6 728.0,679.1 735.5,683.3 743.0,686.3 750.5,689.5 758.0,692.3 765.5,694.3 773.0,695.8 780.5,697.4 788.0,697.1 795.5,696.4 803.0,695.4 810.5,695.0 818.0,694.2 825.5,691.5 833.0,689.9 840.5,687.9 848.0,685.4 855.5,681.5 863.0,678.7 870.5,675.9 878.0,675.1 885.5,673.9 893.0,674.1 900.5,675.2 908.0,677.2 915.5,678.3 923.0,678.9 930.5,679.5 938.0,679.8 945.5,679.6 953.0,680.8 960.5,683.8 968.0,685.7 975.5,688.4 983.0,690.7 990.5,694.4 998.0,698.5 1005.5,701.3 1013.0,703.4 1020.5,706.1 1028.0,709.2" fill="none" stroke="#fbe041" stroke-width="1.5" stroke-linejoin="round"/>
<polyline points="8.0,694.5 15.5,693.9 23.0,687.4 30.5,694.3 38.0,701.2 45.5,698.3 53.0,678.8 60.5,677.8 68.0,681.4 75.5,681.0 83.0,682.4 90.5,688.4 98.0,690.3 105.5,689.3 113.0,712.2 120.5,713.2 128.0,713.8 135.5,714.5 143.0,708.6 150.5,710.8 158.0,696.7 165.5,696.9 173.0,703.6 180.5,683.4 188.0,662.6 195.5,660.6 203.0,653.6 210.5,653.0 218.0,653.0 225.5,644.7 233.0,637.1 240.5,657.0 248.0,652.6 255.5,658.2 263.0,653.6 270.5,669.5 278.0,670.5 285.5,668.9 293.0,666.9 300.5,651.0 308.0,643.1 315.5,645.7 323.0,630.8 330.5,626.4 338.0,629.8 345.5,635.8 353.0,631.8 360.5,642.3 368.0,658.6 375.5,662.0 383.0,669.5 390.5,668.1 398.0,678.4 405.5,668.1 413.0,663.9 420.5,667.5 428.0,663.5 435.5,676.4 443.0,689.7 450.5,691.3 458.0,712.8 465.5,697.9 473.0,682.4 480.5,682.4 488.0,708.2 495.5,707.2 503.0,707.8 510.5,694.7 518.0,710.2 525.5,715.1 533.0,705.2 540.5,695.9 548.0,692.3 555.5,698.7 563.0,698.7 570.5,686.0 578.0,688.7 585.5,687.0 593.0,668.1 600.5,657.0 608.0,649.7 615.5,652.0 623.0,648.3 630.5,645.7 638.0,669.5 645.5,673.1 653.0,667.7 660.5,676.4 668.0,668.5 675.5,667.1 683.0,678.8 690.5,681.4 698.0,682.0 705.5,682.2 713.0,688.0 720.5,715.1 728.0,711.8 735.5,704.6 743.0,711.2 750.5,718.1 758.0,707.2 765.5,704.2 773.0,689.7 780.5,688.9 788.0,674.5 795.5,671.5 803.0,668.5 810.5,677.0 818.0,676.8 825.5,677.4 833.0,688.9 840.5,677.4 848.0,675.8 855.5,663.1 863.0,668.1 870.5,665.1 878.0,678.8 885.5,672.1 893.0,676.8 900.5,686.8 908.0,697.3 915.5,691.9 923.0,685.4 930.5,685.4 938.0,692.9 945.5,675.5 953.0,692.3 960.5,704.2 968.0,695.3 975.5,702.2 983.0,711.2 990.5,725.1 998.0,733.0 1005.5,726.5 1013.0,726.5 1020.5,729.4 1028.0,729.6" fill="none" stroke="#7e57c2" stroke-width="1.5" stroke-linejoin="round"/>
</g>
<rect x="0" y="34" width="13" height="760" fill="#fff"/>
<rect x="1703.5" y="34" width="97" height="759" fill="#fff"/>
<rect x="13" y="610.8" width="1788" height="1.3" fill="#2a2e39"/>
<rect x="13" y="34" width="1787.5" height="758.5" fill="none" stroke="#eff1f4" stroke-width="2"/>
<text x="1714.68" y="90.69" font-size="14.7" fill="#b2b5be" textLength="75.41" lengthAdjust="spacingAndGlyphs">130,000.00</text>
<text x="1714.68" y="168.33" font-size="14.7" fill="#b2b5be" textLength="74.29" lengthAdjust="spacingAndGlyphs">110,000.00</text>
<text x="1714.68" y="362.43" font-size="14.7" fill="#b2b5be" textLength="67.03" lengthAdjust="spacingAndGlyphs">60,000.00</text>
<text x="1714.68" y="401.25" font-size="14.7" fill="#b2b5be" textLength="67.03" lengthAdjust="spacingAndGlyphs">50,000.00</text>
<text x="1714.68" y="440.07" font-size="14.7" fill="#b2b5be" textLength="67.03" lengthAdjust="spacingAndGlyphs">40,000.00</text>
<text x="1714.68" y="478.89" font-size="14.7" fill="#b2b5be" textLength="67.03" lengthAdjust="spacingAndGlyphs">30,000.00</text>
<text x="1714.68" y="517.71" font-size="14.7" fill="#b2b5be" textLength="67.03" lengthAdjust="spacingAndGlyphs">20,000.00</text>
<text x="1714.68" y="556.53" font-size="14.7" fill="#b2b5be" textLength="67.03" lengthAdjust="spacingAndGlyphs">10,000.00</text>
<text x="1714.68" y="595.35" font-size="14.7" fill="#b2b5be" textLength="29.32" lengthAdjust="spacingAndGlyphs">0.00</text>
<text x="1714.68" y="648.25" font-size="14.7" fill="#b2b5be" textLength="37.70" lengthAdjust="spacingAndGlyphs">80.00</text>
<text x="1714.68" y="689.35" font-size="14.7" fill="#b2b5be" textLength="37.70" lengthAdjust="spacingAndGlyphs">60.00</text>
<text x="57.88" y="781" font-size="15.4" fill="#b2b5be" textLength="20.97" lengthAdjust="spacingAndGlyphs">Jul</text>
<text x="245.55" y="781" font-size="15.8" fill="#b2b5be" font-weight="bold" textLength="34.85" lengthAdjust="spacingAndGlyphs">2024</text>
<text x="447.78" y="781" font-size="15.4" fill="#b2b5be" textLength="20.97" lengthAdjust="spacingAndGlyphs">Jul</text>
<text x="642.85" y="781" font-size="15.8" fill="#b2b5be" font-weight="bold" textLength="35.15" lengthAdjust="spacingAndGlyphs">2025</text>
<text x="845.38" y="781" font-size="15.4" fill="#b2b5be" textLength="20.97" lengthAdjust="spacingAndGlyphs">Jul</text>
<text x="1032.95" y="781" font-size="15.8" fill="#b2b5be" font-weight="bold" textLength="35.36" lengthAdjust="spacingAndGlyphs">2026</text>
<text x="1234.88" y="781" font-size="15.4" fill="#b2b5be" textLength="20.97" lengthAdjust="spacingAndGlyphs">Jul</text>
<text x="1422.35" y="781" font-size="15.8" fill="#b2b5be" font-weight="bold" textLength="35.46" lengthAdjust="spacingAndGlyphs">2027</text>
<text x="1625.48" y="781" font-size="15.4" fill="#b2b5be" textLength="20.97" lengthAdjust="spacingAndGlyphs">Jul</text>
<path d="M1705,92.2 H1795 Q1797,92.2 1797,94.2 V110.2 Q1797,112.2 1795,112.2 H1705 Z" fill="#9c27b0"/><text x="1715.51" y="107.00" font-size="15.2" fill="#fff" stroke="#fff" stroke-width="0.55" textLength="75.15" lengthAdjust="spacingAndGlyphs">126,199.63</text>
<path d="M1705,116.4 H1795 Q1797,116.4 1797,118.4 V134.4 Q1797,136.4 1795,136.4 H1705 Z" fill="#2b2b2b"/><text x="1715.51" y="131.20" font-size="15.2" fill="#fff" stroke="#fff" stroke-width="0.55" textLength="74.04" lengthAdjust="spacingAndGlyphs">119,887.74</text>
<path d="M1705,161.3 H1795 Q1797,161.3 1797,163.3 V179.3 Q1797,181.3 1795,181.3 H1705 Z" fill="#2b2b2b"/><text x="1715.51" y="176.10" font-size="15.2" fill="#fff" stroke="#fff" stroke-width="0.55" textLength="75.15" lengthAdjust="spacingAndGlyphs">108,353.00</text>
<path d="M1705,197 H1786 Q1788,197 1788,199 V215.7 Q1788,217.7 1786,217.7 H1705 Z" fill="#ff0000"/><text x="1715.51" y="211.80" font-size="15.2" fill="#fff" stroke="#fff" stroke-width="0.55" textLength="66.80" lengthAdjust="spacingAndGlyphs">98,581.95</text>
<path d="M1705,219 H1786 Q1788,219 1788,221 V237.2 Q1788,239.2 1786,239.2 H1705 Z" fill="#f23645"/><text x="1715.51" y="233.40" font-size="15.2" fill="#fff" stroke="#fff" stroke-width="0.55" textLength="66.80" lengthAdjust="spacingAndGlyphs">88,014.55</text>
<path d="M1705,239.2 H1785 Q1787,239.2 1787,241.2 V276.4 Q1787,278.4 1785,278.4 H1705 Z" fill="#f23645"/><text x="1715.51" y="254.40" font-size="15.2" fill="#fff" stroke="#fff" stroke-width="0.55" textLength="66.80" lengthAdjust="spacingAndGlyphs">88,014.55</text><text x="1715.51" y="272.30" font-size="15.2" fill="rgba(255,255,255,0.82)" stroke="rgba(255,255,255,0.82)" stroke-width="0.55" textLength="45.93" lengthAdjust="spacingAndGlyphs">2d 16h</text>
<path d="M1705,278.7 H1786 Q1788,278.7 1788,280.7 V297.7 Q1788,299.7 1786,299.7 H1705 Z" fill="#0000ff"/><text x="1715.51" y="293.10" font-size="15.2" fill="#fff" stroke="#fff" stroke-width="0.55" textLength="66.80" lengthAdjust="spacingAndGlyphs">85,769.34</text>
<path d="M1705,302.9 H1786 Q1788,302.9 1788,304.9 V321.5 Q1788,323.5 1786,323.5 H1705 Z" fill="#f23645"/><text x="1715.51" y="317.30" font-size="15.2" fill="#fff" stroke="#fff" stroke-width="0.55" textLength="66.80" lengthAdjust="spacingAndGlyphs">71,769.54</text>
<path d="M1705,573.3 H1761 Q1763,573.3 1763,575.3 V591.7 Q1763,593.7 1761,593.7 H1705 Z" fill="#f05a5f"/>
<text x="1715.51" y="588.70" font-size="15.2" fill="#fff" stroke="#fff" stroke-width="0.55" textLength="39.24" lengthAdjust="spacingAndGlyphs">90.8K</text>
<path d="M1705,699.4 H1757 Q1759,699.4 1759,701.4 V717.8 Q1759,719.8 1757,719.8 H1705 Z" fill="#ffeb3b"/><text x="1715.51" y="714.70" font-size="15.2" fill="#131722" stroke="#131722" stroke-width="0.2" textLength="37.58" lengthAdjust="spacingAndGlyphs">47.51</text>
<path d="M1705,720.4 H1757 Q1759,720.4 1759,722.4 V738.4 Q1759,740.4 1757,740.4 H1705 Z" fill="#7e57c2"/><text x="1715.51" y="735.60" font-size="15.2" fill="#fff" stroke="#fff" stroke-width="0.35" textLength="37.58" lengthAdjust="spacingAndGlyphs">37.51</text>
<rect x="1709" y="39" width="88" height="32" rx="6" fill="#fff" stroke="#e9eaee" stroke-width="1.2"/>
<text x="1719.42" y="60" font-size="16.1" fill="#131722" textLength="35.85" lengthAdjust="spacingAndGlyphs">USDT</text>
<text x="11.86" y="24.4" font-size="14.6" fill="#131722" textLength="73.76" lengthAdjust="spacingAndGlyphs">M_MTrades</text>
<text x="89.66" y="24.4" font-size="14.6" fill="#131722" textLength="51.90" lengthAdjust="spacingAndGlyphs">created</text>
<text x="146.40" y="24.4" font-size="14.6" fill="#131722" textLength="30.12" lengthAdjust="spacingAndGlyphs">with</text>
<text x="180.89" y="24.4" font-size="14.6" fill="#131722" textLength="118.07" lengthAdjust="spacingAndGlyphs">TradingView.com,</text>
<text x="304.08" y="24.4" font-size="14.6" fill="#131722" textLength="24.26" lengthAdjust="spacingAndGlyphs">Dec</text>
<text x="334.59" y="24.4" font-size="14.6" fill="#131722" textLength="18.71" lengthAdjust="spacingAndGlyphs">19,</text>
<text x="358.32" y="24.4" font-size="14.6" fill="#131722" textLength="31.54" lengthAdjust="spacingAndGlyphs">2025</text>
<text x="394.68" y="24.4" font-size="14.6" fill="#131722" textLength="37.27" lengthAdjust="spacingAndGlyphs">13:48</text>
<text x="436.03" y="24.4" font-size="14.6" fill="#131722" textLength="64.90" lengthAdjust="spacingAndGlyphs">UTC+5:30</text>
<text x="22.22" y="58.8" font-size="15" fill="#b2b5be" textLength="48.17" lengthAdjust="spacingAndGlyphs">Bitcoin</text>
<text x="75.60" y="58.8" font-size="15" fill="#b2b5be" textLength="4.17" lengthAdjust="spacingAndGlyphs">/</text>
<text x="87.72" y="58.8" font-size="15" fill="#b2b5be" textLength="58.87" lengthAdjust="spacingAndGlyphs">TetherUS</text>
<text x="161.54" y="58.8" font-size="15" fill="#b2b5be" textLength="19.54" lengthAdjust="spacingAndGlyphs">1W</text>
<text x="196.02" y="58.8" font-size="15" fill="#b2b5be" textLength="53.17" lengthAdjust="spacingAndGlyphs">Binance</text>
<text x="151.70" y="58.8" font-size="15" fill="#b2b5be" textLength="5.00" lengthAdjust="spacingAndGlyphs">·</text>
<text x="186.80" y="58.8" font-size="15" fill="#b2b5be" textLength="5.00" lengthAdjust="spacingAndGlyphs">·</text>
<text x="257.61" y="58.8" font-size="15" fill="#b2b5be" textLength="76.77" lengthAdjust="spacingAndGlyphs">O<tspan fill="#f23645">88,172.16</tspan></text>
<text x="342.52" y="58.8" font-size="15" fill="#b2b5be" textLength="76.54" lengthAdjust="spacingAndGlyphs">H<tspan fill="#f23645">90,365.85</tspan></text>
<text x="427.33" y="58.8" font-size="15" fill="#b2b5be" textLength="73.43" lengthAdjust="spacingAndGlyphs">L<tspan fill="#f23645">84,450.01</tspan></text>
<text x="510.62" y="58.8" font-size="15" fill="#b2b5be" textLength="75.42" lengthAdjust="spacingAndGlyphs">C<tspan fill="#f23645">88,014.55</tspan></text>
<text x="595.12" y="58.8" font-size="15" fill="#f23645" textLength="52.69" lengthAdjust="spacingAndGlyphs">−157.62</text>
<text x="652.46" y="58.8" font-size="15" fill="#f23645" textLength="57.26" lengthAdjust="spacingAndGlyphs">(−0.18%)</text>
<g fill="#141414"><path d="M15.2,820.7 H30.3 V838.9 H23 V828 H15.2 Z"/><circle cx="36.9" cy="823.9" r="3.4"/><path d="M43.6,820.7 H52.8 L46.5,838.9 H37.2 Z"/></g>
<text x="61.81" y="838.9" font-size="26.5" fill="#141414" font-weight="bold" textLength="151.30" lengthAdjust="spacingAndGlyphs">TradingView</text>
</svg>
</body></html>
